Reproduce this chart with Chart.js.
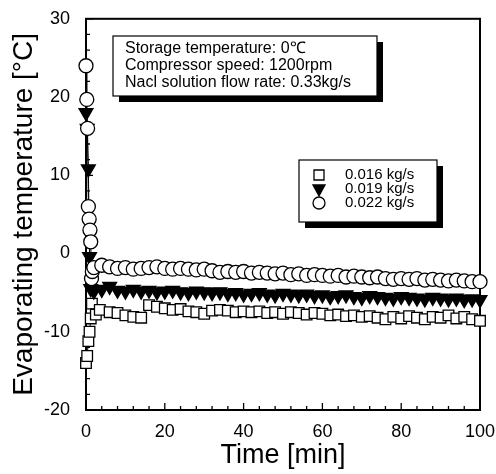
<!DOCTYPE html>
<html>
<head>
<meta charset="utf-8">
<script src="https://cdn.jsdelivr.net/npm/chart.js@4.4.0/dist/chart.umd.min.js"></script>
<style>
  html, body { margin: 0; padding: 0; background: #fff; }
  #wrap { width: 496px; height: 474px; }
</style>
</head>
<body>
<div id="wrap"><canvas id="chart" width="496" height="474"></canvas></div>
<script>
// Evaporating temperature vs time for three brine flow rates
const seriesLabels = ['0.016 kg/s', '0.019 kg/s', '0.022 kg/s'];

const xTicks = [0, 20, 40, 60, 80, 100];
const yTicks = [-20, -10, 0, 10, 20, 30];

const notes = [
    'Storage temperature: 0\u2103',
    'Compressor speed: 1200rpm',
    'Nacl solution flow rate: 0.33kg/s'
];

// 0.016 kg/s (squares)
const sqTime = [0, 0.3, 0.6, 0.9, 1.2, 1.5, 2.5, 3.5,
    6, 8, 10, 12, 14, 16, 18, 20, 22, 24, 26, 28, 30, 32, 34, 36, 38, 40,
    42, 44, 46, 48, 50, 52, 54, 56, 58, 60, 62, 64, 66, 68, 70, 72, 74, 76,
    78, 80, 82, 84, 86, 88, 90, 92, 94, 96, 98, 100];
const sqTemp = [-14, -13.1, -11.2, -10, -8.3, -6.4, -7.8, -7.2,
    -7.5, -7.6, -7.9, -8.1, -8.2, -6.6, -6.8, -7.0, -7.2, -7.1, -7.4, -7.5, -7.7, -7.3, -7.2, -7.3, -7.5, -7.4,
    -7.5, -7.4, -7.6, -7.5, -7.7, -7.5, -7.6, -7.8, -7.6, -7.7, -7.9, -7.8, -8.0, -7.9, -8.1, -8.0, -8.2, -8.4,
    -8.1, -8.3, -8.0, -8.2, -8.4, -8.1, -8.2, -7.9, -8.3, -8.1, -8.4, -8.6];

// 0.019 kg/s (filled triangles)
const triTime = [0, 0.3, 0.6, 0.9, 1.2, 2, 4, 6,
    8, 10, 12, 14, 16, 18, 20, 22, 24, 26, 28, 30, 32, 34, 36, 38, 40,
    42, 44, 46, 48, 50, 52, 54, 56, 58, 60, 62, 64, 66, 68, 70, 72, 74, 76,
    78, 80, 82, 84, 86, 88, 90, 92, 94, 96, 98, 100];
const triTemp = [18, 16, 10.8, -0.4, -4.5, -4.8, -4.6, -4.2,
    -4.7, -4.8, -4.6, -4.8, -4.7, -4.9, -4.8, -4.7, -4.9, -5.0, -4.8, -4.9, -5.0, -4.9, -5.1, -5.0, -5.2,
    -5.1, -5.0, -5.2, -5.3, -5.1, -5.2, -5.3, -5.2, -5.4, -5.3, -5.5, -5.4, -5.3, -5.5, -5.6, -5.4, -5.5, -5.6,
    -5.7, -5.5, -5.6, -5.7, -5.8, -5.6, -5.7, -5.8, -5.7, -5.9, -5.8, -5.9];

// 0.022 kg/s (open circles)
const ciTime = [0, 0.2, 0.4, 0.6, 0.8, 1.0, 1.2, 1.4, 1.6, 2.0,
    4, 6, 8, 10, 12, 14, 16, 18, 20, 22, 24, 26, 28, 30, 32, 34, 36, 38, 40,
    42, 44, 46, 48, 50, 52, 54, 56, 58, 60, 62, 64, 66, 68, 70, 72, 74, 76,
    78, 80, 82, 84, 86, 88, 90, 92, 94, 96, 98, 100];
const ciTemp = [24, 19.7, 16, 6, 4.4, 3, 1.5, -3.2, -2.3, -1.8,
    -1.5, -1.7, -1.9, -1.8, -2.0, -1.9, -1.8, -1.7, -1.9, -2.0, -1.9, -2.0, -2.1, -2.0, -2.2, -2.4, -2.3, -2.4, -2.3,
    -2.5, -2.4, -2.5, -2.6, -2.5, -2.7, -2.6, -2.8, -2.7, -2.8, -2.9, -2.8, -3.0, -2.9, -3.0, -3.1, -3.0, -3.2,
    -3.3, -3.2, -3.3, -3.2, -3.4, -3.3, -3.4, -3.5, -3.4, -3.5, -3.6, -3.6];

function pts(t, v) {
    return t.map((x, i) => ({ x: x, y: v[i] }));
}

const styles = [
    { pointStyle: 'rect', pointRadius: 7.5, pointRotation: 0, pointBackgroundColor: '#fff' },
    { pointStyle: 'triangle', pointRadius: 8, pointRotation: 180, pointBackgroundColor: '#000' },
    { pointStyle: 'circle', pointRadius: 7, pointRotation: 0, pointBackgroundColor: '#fff' }
];

const FONT = '"Liberation Sans", Arial, sans-serif';

function marker(ctx, style, x, y) {
    ctx.save();
    ctx.lineWidth = 1.3;
    ctx.strokeStyle = '#000';
    ctx.beginPath();
    if (style === 'rect') {
        ctx.rect(x - 5, y - 5, 10, 10);
        ctx.fillStyle = '#fff';
    } else if (style === 'triangle') {
        ctx.moveTo(x - 6, y - 4);
        ctx.lineTo(x + 6, y - 4);
        ctx.lineTo(x, y + 7);
        ctx.closePath();
        ctx.fillStyle = '#000';
    } else {
        ctx.arc(x, y, 6, 0, Math.PI * 2);
        ctx.fillStyle = '#fff';
    }
    ctx.fill();
    ctx.stroke();
    ctx.restore();
}

function shadowBox(ctx, l, t, r, b, off) {
    ctx.save();
    ctx.fillStyle = '#000';
    ctx.fillRect(l + off, t + off, r - l, b - t);
    ctx.fillStyle = '#fff';
    ctx.fillRect(l, t, r - l, b - t);
    ctx.lineWidth = 1.2;
    ctx.strokeStyle = '#000';
    ctx.strokeRect(l, t, r - l, b - t);
    ctx.restore();
}

function drawFrame(chart) {
    const ctx = chart.ctx;
    const xs = chart.scales.x, ys = chart.scales.y;
    const left = xs.getPixelForValue(0), right = xs.getPixelForValue(100);
    const top = ys.getPixelForValue(30), bottom = ys.getPixelForValue(-20);
    ctx.save();
    ctx.strokeStyle = '#000';
    ctx.lineWidth = 2;
    ctx.strokeRect(left, top, right - left, bottom - top);
    ctx.lineWidth = 1.3;
    ctx.beginPath();
    for (let v = 0; v <= 100; v += 4) {
        const px = xs.getPixelForValue(v);
        const len = v % 20 === 0 ? 7 : 4;
        ctx.moveTo(px, bottom);
        ctx.lineTo(px, bottom - len);
    }
    for (let v = -20; v <= 30; v += 2) {
        const py = ys.getPixelForValue(v);
        const len = v % 10 === 0 ? 7 : 4;
        ctx.moveTo(left, py);
        ctx.lineTo(left + len, py);
    }
    ctx.stroke();
    ctx.restore();
}

const framePlugin = {
    id: 'frame',
    beforeDatasetsDraw(chart) {
        drawFrame(chart);
    },
    afterDatasetsDraw(chart) {
        const ctx = chart.ctx;
        // note box
        shadowBox(ctx, 113, 36, 377, 96, 6);
        ctx.save();
        ctx.fillStyle = '#000';
        ctx.font = '16px ' + FONT;
        ctx.textBaseline = 'middle';
        notes.forEach((s, i) => ctx.fillText(s, 125, 49 + i * 17));
        ctx.restore();
        // legend box
        shadowBox(ctx, 299, 160, 437, 222, 6);
        ctx.save();
        ctx.fillStyle = '#000';
        ctx.font = '15px ' + FONT;
        ctx.textBaseline = 'middle';
        seriesLabels.forEach((s, i) => {
            const y = 175 + i * 14;
            marker(ctx, styles[i].pointStyle, 319, y);
            ctx.fillStyle = '#000';
            ctx.fillText(s, 345, y);
        });
        ctx.restore();
    }
};

const datasets = seriesLabels.map((lab, i) => ({
    label: lab,
    data: pts([sqTime, triTime, ciTime][i], [sqTemp, triTemp, ciTemp][i]),
    showLine: true,
    borderColor: '#000',
    borderWidth: 1,
    pointBorderColor: '#000',
    pointBorderWidth: 1.3,
    pointStyle: styles[i].pointStyle,
    pointRadius: styles[i].pointRadius,
    pointRotation: styles[i].pointRotation,
    pointBackgroundColor: styles[i].pointBackgroundColor,
    clip: false,
    order: 3 - i
}));

new Chart(document.getElementById('chart'), {
    type: 'scatter',
    data: { datasets: datasets },
    options: {
        responsive: false,
        animation: false,
        layout: { padding: { top: 16, right: 16, left: 7, bottom: 0 } },
        plugins: { legend: { display: false }, tooltip: { enabled: false } },
        scales: {
            x: {
                type: 'linear',
                min: 0, max: 100,
                afterBuildTicks: s => { s.ticks = xTicks.map(v => ({ value: v })); },
                afterFit: s => { s.height = 64; s.paddingRight = 0; },
                grid: { display: false },
                border: { display: false },
                ticks: { color: '#000', font: { family: FONT, size: 18 }, padding: 3 },
                title: { display: true, text: 'Time [min]', color: '#000',
                    font: { family: FONT, size: 27 }, padding: { top: 0, bottom: 2 } }
            },
            y: {
                type: 'linear',
                min: -20, max: 30,
                afterBuildTicks: s => { s.ticks = yTicks.map(v => ({ value: v })); },
                afterFit: s => { s.width = 79; },
                grid: { display: false },
                border: { display: false },
                ticks: { color: '#000', font: { family: FONT, size: 18 }, padding: 8 },
                title: { display: true, text: 'Evaporating temperature [\u00b0C]', color: '#000',
                    font: { family: FONT, size: 28 }, padding: { top: 0, bottom: 4 } }
            }
        }
    },
    plugins: [framePlugin]
});
</script>
</body>
</html>
